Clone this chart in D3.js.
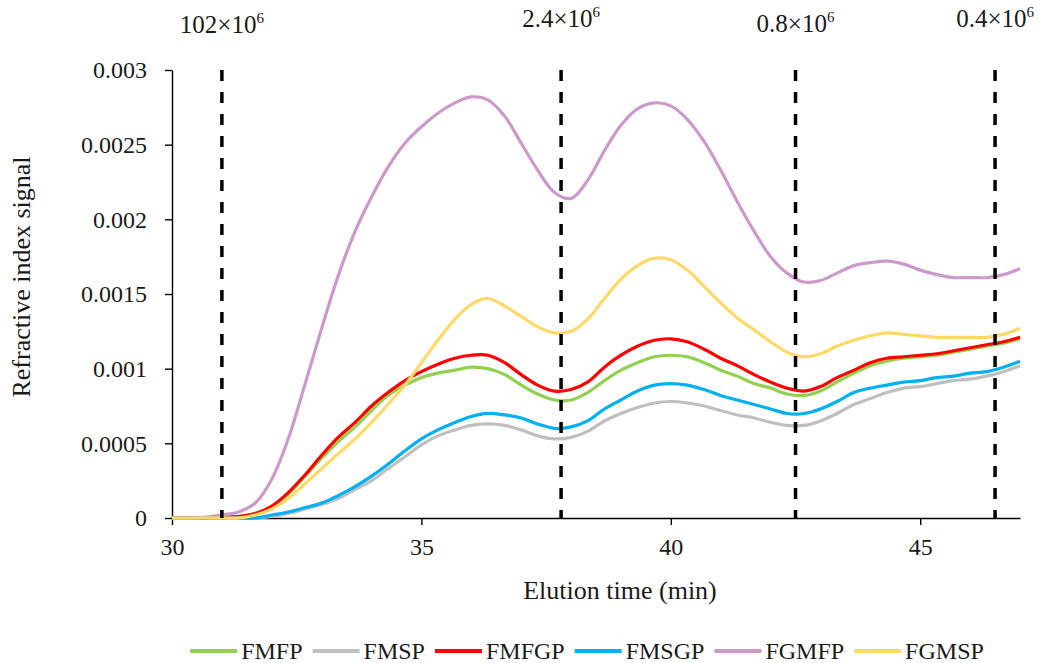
<!DOCTYPE html>
<html>
<head>
<meta charset="utf-8">
<style>
  body { margin: 0; background: #fff; }
  svg { display: block; font-family: "Times New Roman", "Liberation Serif", serif; }
</style>
</head>
<body>
<svg></svg>
<script src="https://d3js.org/d3.v7.min.js"></script>
<script>

// elution time (min)
var elutionTime = [30, 30.5, 31, 31.33, 31.67, 32, 32.33, 32.67, 33, 33.33, 33.67, 34, 34.33, 34.67, 35,
  35.33, 35.67, 36, 36.33, 36.67, 37, 37.33, 37.67, 38, 38.33, 38.67, 39, 39.33, 39.67, 40,
  40.33, 40.67, 41, 41.33, 41.67, 42, 42.33, 42.67, 43, 43.33, 43.67, 44, 44.33, 44.67, 45,
  45.33, 45.67, 46, 46.33, 46.67, 47];

// refractive index signal, in units of 0.001
var FMFP = [0, 0, 0.005, 0.01, 0.03, 0.07, 0.16, 0.28, 0.40, 0.51, 0.61, 0.72, 0.82, 0.89, 0.94,
  0.97, 0.99, 1.01, 1.00, 0.96, 0.89, 0.83, 0.79, 0.79, 0.84, 0.92, 0.99, 1.04, 1.08, 1.09,
  1.08, 1.04, 0.99, 0.95, 0.90, 0.87, 0.83, 0.82, 0.85, 0.91, 0.97, 1.02, 1.05, 1.07, 1.08,
  1.09, 1.11, 1.13, 1.15, 1.17, 1.20];
var FMSP = [0, 0, 0, 0, 0, 0.01, 0.03, 0.06, 0.09, 0.13, 0.19, 0.25, 0.33, 0.41, 0.49,
  0.55, 0.59, 0.62, 0.63, 0.62, 0.59, 0.55, 0.53, 0.54, 0.58, 0.65, 0.70, 0.74, 0.77, 0.78,
  0.77, 0.75, 0.72, 0.69, 0.67, 0.64, 0.62, 0.62, 0.65, 0.70, 0.76, 0.80, 0.84, 0.87, 0.88,
  0.90, 0.92, 0.93, 0.95, 0.98, 1.02];
var FMFGP = [0, 0, 0.005, 0.01, 0.03, 0.08, 0.17, 0.29, 0.42, 0.54, 0.64, 0.75, 0.84, 0.92, 0.98,
  1.03, 1.07, 1.09, 1.09, 1.04, 0.96, 0.89, 0.85, 0.86, 0.91, 1.01, 1.09, 1.15, 1.19, 1.20,
  1.18, 1.13, 1.07, 1.02, 0.96, 0.91, 0.87, 0.85, 0.88, 0.94, 0.99, 1.04, 1.07, 1.08, 1.09,
  1.10, 1.12, 1.14, 1.16, 1.18, 1.21];
var FMSGP = [0, 0, 0, 0, 0, 0.02, 0.04, 0.07, 0.10, 0.15, 0.21, 0.28, 0.36, 0.45, 0.53,
  0.59, 0.64, 0.68, 0.70, 0.69, 0.67, 0.63, 0.60, 0.61, 0.65, 0.73, 0.79, 0.85, 0.89, 0.90,
  0.89, 0.86, 0.82, 0.79, 0.76, 0.73, 0.70, 0.70, 0.73, 0.78, 0.84, 0.87, 0.89, 0.91, 0.92,
  0.94, 0.95, 0.97, 0.98, 1.01, 1.05];
var FGMFP = [0, 0, 0.02, 0.04, 0.10, 0.26, 0.53, 0.90, 1.27, 1.62, 1.92, 2.15, 2.35, 2.51, 2.62,
  2.71, 2.78, 2.82, 2.80, 2.69, 2.51, 2.33, 2.18, 2.14, 2.26, 2.46, 2.63, 2.74, 2.78, 2.76,
  2.67, 2.52, 2.33, 2.12, 1.92, 1.75, 1.64, 1.58, 1.59, 1.64, 1.69, 1.71, 1.72, 1.70, 1.66,
  1.63, 1.61, 1.61, 1.61, 1.63, 1.67];
var FGMSP = [0, 0, 0, 0, 0.02, 0.06, 0.13, 0.23, 0.33, 0.43, 0.53, 0.64, 0.76, 0.89, 1.04,
  1.19, 1.33, 1.43, 1.47, 1.42, 1.35, 1.28, 1.24, 1.25, 1.33, 1.47, 1.60, 1.69, 1.74, 1.73,
  1.66, 1.55, 1.44, 1.34, 1.26, 1.18, 1.11, 1.08, 1.10, 1.15, 1.19, 1.22, 1.24, 1.23, 1.22,
  1.21, 1.21, 1.21, 1.21, 1.23, 1.27];

var seriesNames = ["FMFP", "FMSP", "FMFGP", "FMSGP", "FGMFP", "FGMSP"];
var seriesValues = [FMFP, FMSP, FMFGP, FMSGP, FGMFP, FGMSP];
var seriesColors = ["#92D050", "#BFBFBF", "#FF0000", "#00B0F0", "#CC99CC", "#FFD966"];

// molecular weight markers
var markerTime = [31.0, 37.8, 42.5, 46.5];
var markerMantissa = ["102", "2.4", "0.8", "0.4"];

var xTicks = [30, 35, 40, 45];
var yTicks = [0, 0.0005, 0.001, 0.0015, 0.002, 0.0025, 0.003];

var W = 1043, H = 663;
var margin = {top: 70, right: 23, bottom: 145, left: 172},
    width = W - margin.left - margin.right,
    height = H - margin.top - margin.bottom;

var svg = d3.select("svg").attr("width", W).attr("height", H);
svg.append("rect").attr("width", W).attr("height", H).attr("fill", "#fff");

var g = svg.append("g")
    .attr("transform", "translate(" + margin.left + "," + margin.top + ")");

var x = d3.scaleLinear().domain([30, 47]).range([0, width]);
var y = d3.scaleLinear().domain([0, 0.003]).range([height, 0]);

// axes
var xAxis = g.append("g")
    .attr("transform", "translate(0," + height + ")")
    .call(d3.axisBottom(x).tickValues(xTicks).tickSize(7).tickSizeOuter(0).tickPadding(13));
var yAxis = g.append("g")
    .call(d3.axisLeft(y).tickValues(yTicks).tickSize(7).tickSizeOuter(0).tickPadding(18)
      .tickFormat(function(d) { return d === 0 ? "0" : String(+d.toFixed(4)); }));

[xAxis, yAxis].forEach(function(a) {
  a.select(".domain").attr("stroke", "#000").attr("stroke-width", 1.4);
  a.selectAll(".tick line").attr("stroke", "#000").attr("stroke-width", 1.4);
  a.selectAll(".tick text")
      .attr("fill", "#1a1a1a")
      .style("font-family", "'Times New Roman', 'Liberation Serif', serif")
      .style("font-size", "24px");
});

// curves
var line = d3.line()
    .x(function(d) { return x(d[0]); })
    .y(function(d) { return y(d[1] * 1e-3); })
    .curve(d3.curveCatmullRom.alpha(0.5));

seriesValues.forEach(function(vals, i) {
  g.append("path")
      .datum(elutionTime.map(function(t, j) { return [t, vals[j]]; }))
      .attr("fill", "none")
      .attr("stroke", seriesColors[i])
      .attr("stroke-width", 3.2)
      .attr("stroke-linejoin", "round")
      .attr("d", line);
});

// dashed markers
g.selectAll(".marker")
    .data(markerTime)
  .enter().append("line")
    .attr("x1", function(d) { return x(d); })
    .attr("x2", function(d) { return x(d); })
    .attr("y1", y(0.003))
    .attr("y2", y(0))
    .attr("stroke", "#000")
    .attr("stroke-width", 3.5)
    .attr("stroke-dasharray", "11,11");

var labelBaseline = [33, 27, 32, 27];
markerTime.forEach(function(t, i) {
  var txt = svg.append("text")
      .attr("x", margin.left + x(t))
      .attr("y", labelBaseline[i])
      .attr("text-anchor", "middle")
      .attr("fill", "#1a1a1a")
      .style("font-size", "25px");
  txt.append("tspan").text(markerMantissa[i] + "\u00d710");
  txt.append("tspan").attr("dy", -10).style("font-size", "15px").text("6");
});

// axis titles
svg.append("text")
    .attr("x", 620).attr("y", 599)
    .attr("text-anchor", "middle")
    .attr("fill", "#1a1a1a")
    .style("font-size", "26px")
    .text("Elution time (min)");

svg.append("text")
    .attr("transform", "translate(30,277) rotate(-90)")
    .attr("text-anchor", "middle")
    .attr("fill", "#1a1a1a")
    .style("font-size", "26px")
    .text("Refractive index signal");

// legend
var legend = svg.append("g");
var cursor = 0;
seriesNames.forEach(function(name, i) {
  var item = legend.append("g").attr("transform", "translate(" + cursor + ",0)");
  item.append("line")
      .attr("x1", 0).attr("x2", 47)
      .attr("y1", 651).attr("y2", 651)
      .attr("stroke", seriesColors[i])
      .attr("stroke-width", 4);
  var t = item.append("text")
      .attr("x", 51).attr("y", 659)
      .attr("fill", "#1a1a1a")
      .style("font-size", "24px")
      .text(name);
  cursor += 51 + t.node().getComputedTextLength() + 10;
});
var legendWidth = cursor - 10;
legend.attr("transform", "translate(" + (587 - legendWidth / 2) + ",0)");

</script>
</body>
</html>
